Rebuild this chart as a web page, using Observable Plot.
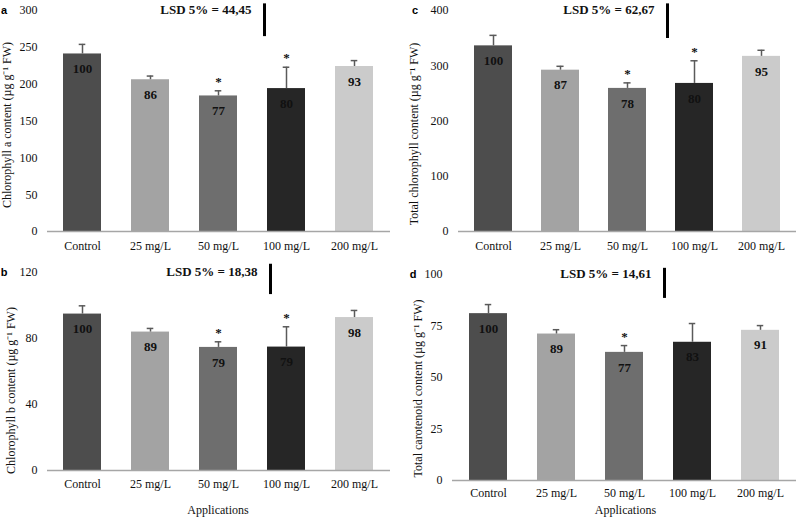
<!DOCTYPE html>
<html>
<head>
<meta charset="utf-8">
<script src="https://cdn.jsdelivr.net/npm/d3@7"></script>
<script src="https://cdn.jsdelivr.net/npm/@observablehq/plot@0.6"></script>
<style>
  html, body { margin: 0; padding: 0; background: #fff; }
  #wrap { position: relative; width: 799px; height: 521px; overflow: hidden; background: #fff; }
  .panel { position: absolute; }
  .letter { position: absolute; font-family: "Liberation Sans", Arial, sans-serif; font-weight: bold; font-size: 11px; line-height: 11px; transform: translate(-50%, -50%); }
</style>
</head>
<body>
<div id="wrap"></div>
<script>
// ---- data ----
const categories = ["Control", "25 mg/L", "50 mg/L", "100 mg/L", "200 mg/L"];

const chlA      = [241, 206, 184, 194, 224];
const chlAErr   = [13, 5, 7, 29, 8];
const chlAPct   = [100, 86, 77, 80, 93];
const chlASig   = [false, false, true, true, false];
const chlALsd   = 44.45;

const chlB      = [94.8, 83.9, 74.6, 74.8, 92.7];
const chlBErr   = [5, 2.2, 3.4, 12.3, 4.3];
const chlBPct   = [100, 89, 79, 79, 98];
const chlBSig   = [false, false, true, true, false];
const chlBLsd   = 18.38;

const totChl    = [336, 292, 259, 268, 317];
const totChlErr = [19, 7, 10, 41, 11];
const totChlPct = [100, 87, 78, 80, 95];
const totChlSig = [false, false, true, true, false];
const totChlLsd = 62.67;

const carot     = [81, 71.1, 62.2, 67.1, 72.9];
const carotErr  = [4.4, 2.1, 3.3, 9.1, 2.3];
const carotPct  = [100, 89, 77, 83, 91];
const carotSig  = [false, false, true, false, false];
const carotLsd  = 14.61;

const ticksA = [0, 50, 100, 150, 200, 250, 300];
const ticksB = [0, 40, 80, 120];
const ticksC = [0, 100, 200, 300, 400];
const ticksD = [0, 25, 50, 75, 100];

const barColors = ["#4d4d4d", "#a3a3a3", "#6e6e6e", "#262626", "#cbcbcb"];

const wrap = document.getElementById("wrap");

function panel(cfg) {
  const data = categories.map((c, i) => ({cat: c, v: cfg.values[i], e: cfg.errs[i], p: cfg.pcts[i], s: cfg.sig[i]}));
  const step = (cfg.width - cfg.mL - cfg.mR) / 5;
  const bw = step * 0.56;
  const capInset = (bw - 7) / 2;
  const yMax = cfg.ticks[cfg.ticks.length - 1];
  const marks = [
    Plot.axisY({ticks: cfg.ticks, tickSize: 0, tickPadding: 10, fontSize: 12, label: null}),
    Plot.axisX({tickSize: 0, tickPadding: cfg.xPad, fontSize: 12, label: null}),
    Plot.barY(data, {x: "cat", y: "v", fill: "cat"}),
    Plot.ruleX(data, {x: "cat", y1: "v", y2: d => d.v + d.e, stroke: "#5a5a5a", strokeWidth: 1.5}),
    Plot.tickY(data, {x: "cat", y: d => d.v + d.e, stroke: "#5a5a5a", strokeWidth: 1.5, insetLeft: capInset, insetRight: capInset}),
    Plot.ruleY([0], {stroke: "#a6a6a6", strokeWidth: 1.5}),
    Plot.text(data, {x: "cat", y: "v", text: d => String(d.p), dy: 15, fontWeight: "bold", fontSize: 13, fill: "#111"}),
    Plot.text(data.filter(d => d.s), {x: "cat", y: d => d.v + d.e, text: () => "*", dy: -9, fontWeight: "bold", fontSize: 13, fill: "#111"}),
    Plot.ruleX([cfg.lsd], {x: () => "100 mg/L", y1: () => cfg.lsdTop, y2: d => cfg.lsdTop - d, dx: cfg.lsdDx, stroke: "#000", strokeWidth: 3}),
    Plot.text([cfg.lsd], {x: () => "100 mg/L", y: () => yMax, text: d => "LSD 5% = " + d.toFixed(2).replace(".", ","), textAnchor: "end", dx: cfg.lsdDx - 13, dy: -1, fontWeight: "bold", fontSize: 13, fill: "#111"}),
    Plot.text([cfg.ylabel], {text: d => d, frameAnchor: "left", textAnchor: "middle", rotate: -90, dx: cfg.ylDx, dy: cfg.ylDy, fontSize: 12})
  ];
  if (cfg.apps) {
    marks.push(Plot.text(["Applications"], {text: d => d, frameAnchor: "bottom", dx: cfg.apDx, dy: cfg.apDy, fontSize: 12}));
  }
  const svg = Plot.plot({
    width: cfg.width, height: cfg.height,
    marginTop: cfg.mT, marginBottom: cfg.mB, marginLeft: cfg.mL, marginRight: cfg.mR,
    style: {fontFamily: "'Liberation Serif', 'Times New Roman', serif", fontSize: "12px", color: "#111", background: "transparent", overflow: "visible"},
    x: {domain: categories, paddingInner: 0.44, paddingOuter: 0.22, label: null},
    y: {domain: [0, yMax], label: null},
    color: {domain: categories, range: barColors},
    marks
  });
  svg.classList.add("panel");
  svg.style.left = cfg.left + "px";
  svg.style.top = cfg.top + "px";
  wrap.appendChild(svg);
  const L = document.createElement("div");
  L.className = "letter";
  L.textContent = cfg.letter;
  L.style.left = cfg.letterX + "px";
  L.style.top = cfg.letterY + "px";
  wrap.appendChild(L);
}

panel({left: 0, top: 0, width: 400, height: 255, mT: 10, mB: 24, mL: 47, mR: 10, xPad: 10,
  values: chlA, errs: chlAErr, pcts: chlAPct, sig: chlASig, lsd: chlALsd, lsdTop: 309, lsdDx: -22,
  ticks: ticksA, ylabel: "Chlorophyll a content (µg g⁻¹ FW)", ylDx: -40, ylDy: 4,
  letter: "a", letterX: 4, letterY: 10});

panel({left: 400, top: 0, width: 399, height: 255, mT: 10, mB: 24, mL: 58, mR: 3, xPad: 10,
  values: totChl, errs: totChlErr, pcts: totChlPct, sig: totChlSig, lsd: totChlLsd, lsdTop: 412, lsdDx: -27,
  ticks: ticksC, ylabel: "Total chlorophyll content (µg g⁻¹ FW)", ylDx: -44, ylDy: 13,
  letter: "c", letterX: 415, letterY: 10});

panel({left: 0, top: 255, width: 400, height: 266, mT: 17, mB: 51, mL: 47, mR: 10, xPad: 9,
  values: chlB, errs: chlBErr, pcts: chlBPct, sig: chlBSig, lsd: chlBLsd, lsdTop: 125, lsdDx: -16,
  ticks: ticksB, ylabel: "Chlorophyll b content (µg g⁻¹ FW)", ylDx: -36, ylDy: 19,
  letter: "b", letterX: 4, letterY: 272, apps: true, apDx: -1, apDy: 43});

panel({left: 400, top: 255, width: 399, height: 266, mT: 19, mB: 41, mL: 52, mR: 3, xPad: 8,
  values: carot, errs: carotErr, pcts: carotPct, sig: carotSig, lsd: carotLsd, lsdTop: 103, lsdDx: -28,
  ticks: ticksD, ylabel: "Total carotenoid content (µg g⁻¹ FW)", ylDx: -34, ylDy: 11,
  letter: "d", letterX: 413, letterY: 274, apps: true, apDx: 1, apDy: 33});
</script>
</body>
</html>
